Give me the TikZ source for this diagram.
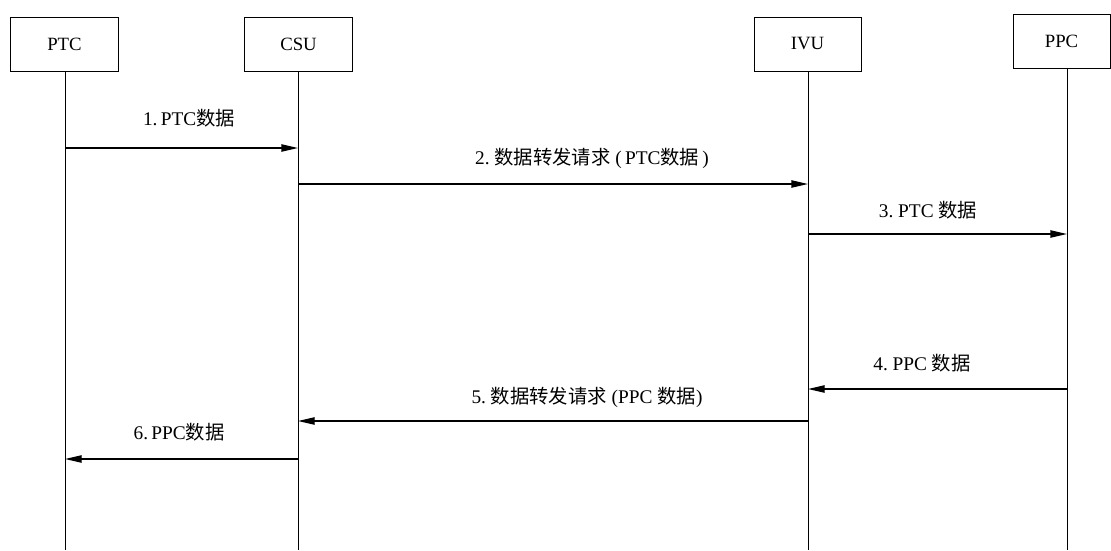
\documentclass[tikz,border=0pt]{standalone}
\usepackage{fontspec}
\setmainfont{Liberation Serif}
\newfontfamily\cjk{Noto Sans CJK SC}
\usetikzlibrary{arrows.meta}

\begin{document}
\begin{tikzpicture}[x=0.03cm,y=-0.03cm,
    unitbox/.style={draw, line width=0.03cm, minimum height=1.62cm, inner sep=0pt},
    lifeline/.style={line width=0.03cm},
    msg/.style={line width=0.04cm, -{Triangle[length=0.5cm,width=0.22cm]}},
    msglabel/.style={inner sep=0pt, font=\fontsize{16.5}{18}\selectfont}]
            \useasboundingbox (0,0) rectangle (1111,550);
            {\fontsize{16}{18}\selectfont

            % Drawing unit boxes
            \node [unitbox, minimum width=3.21cm] (PTC) at (64.5,44.000000) {PTC};%
            \node [unitbox, minimum width=3.21cm] (CSU) at (298.5,44.000000) {CSU};%
            \node [unitbox, minimum width=3.21cm] (IVU) at (807.5,44.000000) {IVU};%
            \node [unitbox, minimum width=2.91cm] (PPC) at (1061.5,41.000000) {PPC};%

            % Drawing life lines
            \coordinate (PTCend) at (65,550);
            \coordinate (CSUend) at (298,550);
            \coordinate (IVUend) at (808,550);
            \coordinate (PPCend) at (1067,550);
            \draw [lifeline] (PTCend |- PTC.south) -- (PTCend);%
            \draw [lifeline] (CSUend |- CSU.south) -- (CSUend);%
            \draw [lifeline] (IVUend |- IVU.south) -- (IVUend);%
            \draw [lifeline] (PPCend |- PPC.south) -- (PPCend);%

            % Drawing message 1 PTC -> CSU
            \draw [msg] (PTCend |- 0,148) -- (CSUend |- 0,148);%
            \node [msglabel] (m1) at (189,118) {1.\,PTC{\cjk 数据}};%

            % Drawing message 2 CSU -> IVU
            \draw [msg] (CSUend |- 0,184) -- (IVUend |- 0,184);%
            \node [msglabel] (m2) at (592,158) {2.\ {\cjk 数据转发请求}\ (\,PTC{\cjk 数据}\,)};%

            % Drawing message 3 IVU -> PPC
            \draw [msg] (IVUend |- 0,234) -- (PPCend |- 0,234);%
            \node [msglabel] (m3) at (928,210) {3.\ PTC {\cjk 数据}};%

            % Drawing message 4 PPC -> IVU
            \draw [msg] (PPCend |- 0,389) -- (IVUend |- 0,389);%
            \node [msglabel] (m4) at (922,363) {4.\ PPC {\cjk 数据}};%

            % Drawing message 5 IVU -> CSU
            \draw [msg] (IVUend |- 0,421) -- (CSUend |- 0,421);%
            \node [msglabel] (m5) at (587,397) {5.\ {\cjk 数据转发请求}\ (PPC {\cjk 数据})};%

            % Drawing message 6 CSU -> PTC
            \draw [msg] (CSUend |- 0,459) -- (PTCend |- 0,459);%
            \node [msglabel] (m6) at (179,432) {6.\,PPC{\cjk 数据}};%
            }
        \end{tikzpicture}
\end{document}
